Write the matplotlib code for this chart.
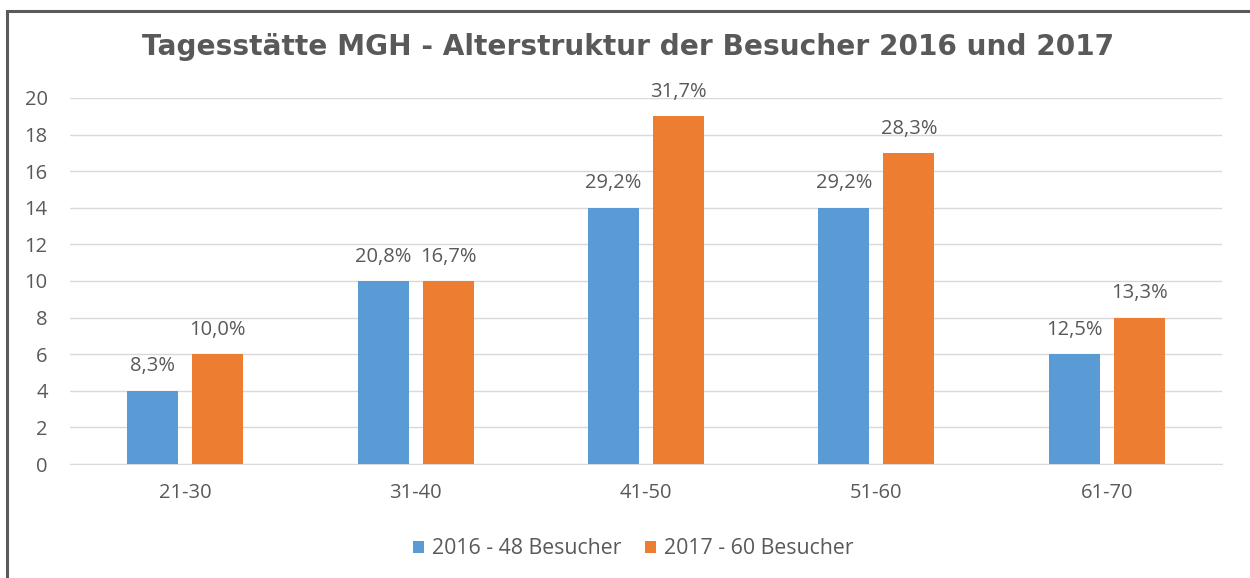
import matplotlib
matplotlib.use("Agg")
import matplotlib.pyplot as plt
import numpy as np
from matplotlib.patches import Rectangle

categories = ["21-30", "31-40", "41-50", "51-60", "61-70"]
values_2016 = [4, 10, 14, 14, 6]
values_2017 = [6, 10, 19, 17, 8]
labels_2016 = ["8,3%", "20,8%", "29,2%", "29,2%", "12,5%"]
labels_2017 = ["10,0%", "16,7%", "31,7%", "28,3%", "13,3%"]
series_names = ["2016 - 48 Besucher", "2017 - 60 Besucher"]
title = "Tagesstätte MGH - Alterstruktur der Besucher 2016 und 2017"

blue = "#5B9BD5"
orange = "#ED7D31"
text_gray = "#595959"

plt.rcParams['font.family'] = ['Open Sans', 'DejaVu Sans']

fig = plt.figure(figsize=(12.5, 5.78), dpi=100)
fig.patch.set_facecolor("white")
ax = fig.add_axes([70/1250, 1-464/578, 1152/1250, 366/578])

x = np.arange(len(categories))
w = 0.221
off = 0.141
b1 = ax.bar(x - off, values_2016, w, color=blue, label=series_names[0], zorder=3)
b2 = ax.bar(x + off, values_2017, w, color=orange, label=series_names[1], zorder=3)

for bars, labs in ((b1, labels_2016), (b2, labels_2017)):
    for r, lab in zip(bars, labs):
        ax.annotate(lab, (r.get_x() + r.get_width()/2, r.get_height()),
                    xytext=(0, 17.5), textcoords="offset points",
                    ha="center", va="center", fontsize=14.5, color=text_gray)

ax.set_xlim(-0.5, len(categories) - 0.5)
ax.set_ylim(0, 20)
ax.set_yticks(np.arange(0, 21, 2))
ax.set_xticks(x)
ax.set_xticklabels(categories)
ax.tick_params(axis="both", length=0, labelsize=14.5, colors=text_gray)
ax.tick_params(axis="y", pad=16)
ax.tick_params(axis="x", pad=14)
ax.grid(axis="y", color="#D9D9D9", linewidth=1, zorder=0)
for s in ["top", "right", "left"]:
    ax.spines[s].set_visible(False)
ax.spines["bottom"].set_color("#D9D9D9")

fig.text(628/1250, 1-47/578, title, ha="center", va="center",
         fontsize=20.2, fontweight="bold", color=text_gray, family="DejaVu Sans")

leg = fig.legend(loc="center", bbox_to_anchor=(633/1250, 1-549/578), ncol=2,
                 frameon=False, fontsize=15.3, handlelength=0.55, handleheight=0.55,
                 handletextpad=0.35, columnspacing=1.1, labelcolor=text_gray)

fig.patches.append(Rectangle((7/1250, -0.1), 1.2, 1-11/578+0.1, transform=fig.transFigure,
                             fill=False, edgecolor="#5A5A5A", linewidth=2.2))

fig.savefig("out.png", dpi=100)
